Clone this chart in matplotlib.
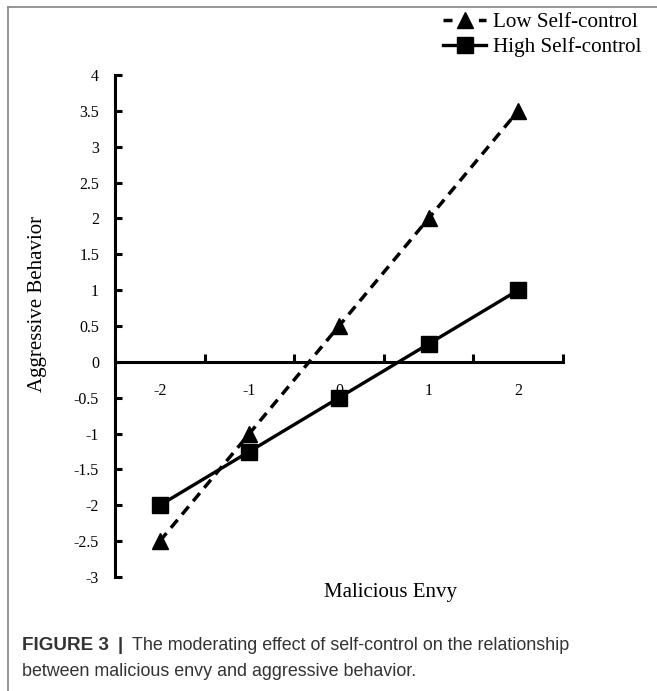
import matplotlib
matplotlib.use("Agg")
import matplotlib.pyplot as plt
from matplotlib.lines import Line2D
from matplotlib.ticker import FixedLocator, NullFormatter


envy_levels = ["-2", "-1", "0", "1", "2"]
low_self_control = [-2.5, -1.0, 0.5, 2.0, 3.5]
high_self_control = [-2.0, -1.25, -0.5, 0.25, 1.0]
y_ticks = [-3, -2.5, -2, -1.5, -1, -0.5, 0, 0.5, 1, 1.5, 2, 2.5, 3, 3.5, 4]

SERIF = "Liberation Serif"
SANS = "Liberation Sans"
W, H = 657, 691


def fmt(v: float) -> str:
    """Excel-like number label: 3 -> '3', 2.5 -> '2.5'."""
    return f"{v:g}"


fig = plt.figure(figsize=(W / 100, H / 100), dpi=100)
ax = fig.add_axes([115 / W, 1 - 577 / H, (563 - 115) / W, (577 - 75) / H])

xs = list(range(len(envy_levels)))
ax.plot(xs, low_self_control, color="black", lw=2.5, ls=(0, (3.0, 2.0)),
        marker="^", ms=11)
ax.plot(xs, high_self_control, color="black", lw=2.4, ls="-",
        marker="s", ms=11)

ax.set_xlim(-0.5, len(envy_levels) - 0.5)
ax.set_ylim(-3, 4)

# spines: y axis on left, category axis crossing at zero
for side in ("top", "right"):
    ax.spines[side].set_visible(False)
ax.spines["left"].set_linewidth(2.2)
ax.spines["bottom"].set_linewidth(2.2)
ax.spines["bottom"].set_position(("data", 0))

ax.set_yticks(y_ticks)
ax.set_yticklabels([fmt(v) for v in y_ticks], fontfamily=SERIF, fontsize=11.5)
ax.tick_params(axis="y", direction="in", length=5, width=2.2, pad=11.5)

# category boundaries get the tick marks, centres get the labels
ax.xaxis.set_major_locator(FixedLocator([i - 0.5 for i in range(len(envy_levels) + 1)]))
ax.xaxis.set_major_formatter(NullFormatter())
ax.xaxis.set_minor_locator(FixedLocator(xs))
ax.set_xticklabels(envy_levels, minor=True, fontfamily=SERIF, fontsize=11.5)
ax.tick_params(axis="x", which="major", direction="in", length=6, width=2.2)
ax.tick_params(axis="x", which="minor", length=0, pad=15)

fig.text(38 / W, 1 - 304 / H, "Aggressive Behavior", rotation=90,
         ha="center", va="center", fontfamily=SERIF, fontsize=15)
fig.text(390 / W, 1 - 592 / H, "Malicious Envy",
         ha="center", va="center", fontfamily=SERIF, fontsize=15)

# legend keys: one short dash each side of the marker, as in the original
handles = [
    Line2D([], [], color="black", lw=2.5, ls=(0, (2.6, 7.6)), marker="^", ms=11),
    Line2D([], [], color="black", lw=2.4, ls="-", marker="s", ms=11),
]
fig.legend(handles, ["Low Self-control", "High Self-control"],
           loc="upper right", bbox_to_anchor=(650 / W, 1 - 4 / H), frameon=False,
           prop={"family": SERIF, "size": 15.2}, handlelength=2.0,
           handletextpad=0.35, labelspacing=0.25, borderaxespad=0)

# frame of the figure panel (open at right and bottom)
border = dict(color="#8c8c8c", lw=1.3, transform=fig.transFigure)
fig.add_artist(Line2D([8 / W, 8 / W], [0, 1 - 7 / H], **border))
fig.add_artist(Line2D([8 / W, 1], [1 - 7 / H, 1 - 7 / H], **border))

# caption
cap_col = "#333333"
head = fig.text(22 / W, 1 - 645 / H, "FIGURE 3", fontfamily=SANS, fontsize=13.6,
                fontweight="bold", color=cap_col, va="center")
fig.canvas.draw()
x0 = head.get_window_extent().x1
fig.text((x0 + 9) / W, 1 - 645 / H, "|", fontfamily=SANS, fontsize=13.6,
         fontweight="bold", color=cap_col, va="center")
fig.text((x0 + 23) / W, 1 - 645 / H,
         "The moderating effect of self-control on the relationship",
         fontfamily=SANS, fontsize=12.9, color=cap_col, va="center")
fig.text(22 / W, 1 - 672 / H, "between malicious envy and aggressive behavior.",
         fontfamily=SANS, fontsize=12.9, color=cap_col, va="center")

fig.savefig("out.png", dpi=100)
